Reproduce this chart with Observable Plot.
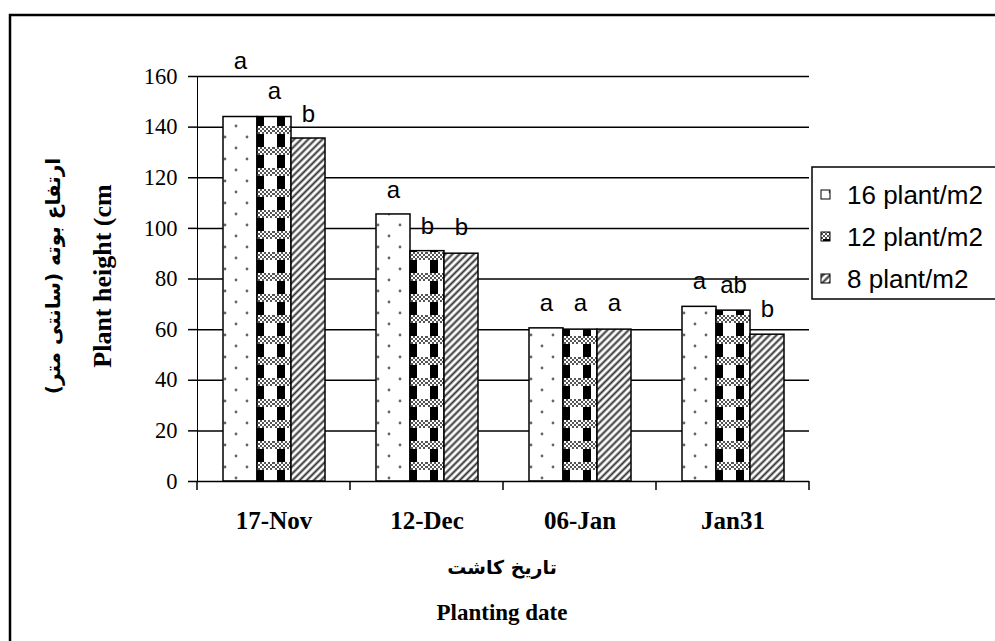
<!DOCTYPE html>
<html>
<head>
<meta charset="utf-8">
<script src="https://cdn.jsdelivr.net/npm/d3@7"></script>
<script src="https://cdn.jsdelivr.net/npm/@observablehq/plot@0.6"></script>
<style>
  html, body { margin: 0; padding: 0; background: white; }
  #chart svg [aria-label^="fx-axis"] text { font-family: 'Liberation Serif', 'Times New Roman', serif; font-weight: bold; font-size: 25px; }
  #chart svg [aria-label^="y-axis"] text { font-family: 'Liberation Serif', 'Times New Roman', serif; font-size: 22.5px; }
  #chart svg [aria-label^="y-axis"] { stroke-width: 1.5; }
</style>
</head>
<body>
<div id="chart"></div>
<script>
// ---- data ----
const dates = ["17-Nov", "12-Dec", "06-Jan", "Jan31"];
const densities = ["16 plant/m2", "12 plant/m2", "8 plant/m2"];
const height16 = [144, 105.5, 60.5, 69];
const height12 = [144, 91, 60, 67.5];
const height8 = [135.5, 90, 60, 58];
const letters16 = ["a", "a", "a", "a"];
const letters12 = ["a", "b", "a", "ab"];
const letters8 = ["b", "b", "a", "b"];
const letterAt16 = [166, 115, 70.5, 79];
const letterAt12 = [154, 101, 70.5, 77.5];
const letterAt8 = [145, 100.5, 70.5, 68];
const yTicks = [0, 20, 40, 60, 80, 100, 120, 140, 160];

const series = [
  {name: densities[0], values: height16, letters: letters16, at: letterAt16},
  {name: densities[1], values: height12, letters: letters12, at: letterAt12},
  {name: densities[2], values: height8, letters: letters8, at: letterAt8}
];
const table = dates.flatMap((date, i) =>
  series.map(s => ({date, density: s.name, value: s.values[i], letter: s.letters[i], letterAt: s.at[i]})));

const sans = "'Liberation Sans', Arial, sans-serif";
const serif = "'Liberation Serif', 'Times New Roman', serif";
const patternIds = ["url(#p16)", "url(#p12)", "url(#p8)"];

const chart = Plot.plot({
  width: 995,
  height: 641,
  marginLeft: 197,
  marginRight: 186,
  marginTop: 76,
  marginBottom: 160,
  style: {fontFamily: serif, fontSize: "22px", color: "black", background: "white", overflow: "visible"},
  facet: {data: table, x: "date"},
  fx: {domain: dates, padding: 0, label: null, tickSize: 0, tickPadding: 30, axis: "bottom"},
  x: {domain: densities, paddingInner: 0, paddingOuter: 0.686, axis: null},
  y: {domain: [0, 160], ticks: yTicks, tickSize: 9, tickPadding: 11, label: null, line: true},
  color: {domain: densities, range: patternIds},
  marks: [
    Plot.ruleY(yTicks.slice(1), {stroke: "black", strokeWidth: 1.5}),
    Plot.barY(table, {x: "density", y: "value", fill: "density", stroke: "black", strokeWidth: 1.5}),
    Plot.text(table, {x: "density", y: "letterAt", text: "letter", fontFamily: sans, fontSize: 24, fill: "black"}),
    Plot.ruleY([0], {stroke: "black", strokeWidth: 1.5})
  ]
});

const svg = d3.select(chart);

// ---- patterns ----
const defs = svg.insert("defs", ":first-child");
const fine = defs.append("pattern").attr("id", "fine").attr("patternUnits", "userSpaceOnUse")
  .attr("width", 4).attr("height", 4);
fine.append("rect").attr("width", 4).attr("height", 4).attr("fill", "#fff");
fine.append("rect").attr("width", 2).attr("height", 2).attr("fill", "#555");
fine.append("rect").attr("x", 2).attr("y", 2).attr("width", 2).attr("height", 2).attr("fill", "#555");

const p16 = defs.append("pattern").attr("id", "p16").attr("patternUnits", "userSpaceOnUse")
  .attr("width", 22).attr("height", 22);
p16.append("rect").attr("width", 22).attr("height", 22).attr("fill", "#fff");
p16.append("circle").attr("cx", 5).attr("cy", 5).attr("r", 1.4).attr("fill", "#666");
p16.append("circle").attr("cx", 16).attr("cy", 16).attr("r", 1.4).attr("fill", "#666");

const p12 = defs.append("pattern").attr("id", "p12").attr("patternUnits", "userSpaceOnUse")
  .attr("width", 21).attr("height", 21);
p12.append("rect").attr("width", 21).attr("height", 21).attr("fill", "#fff");
p12.append("rect").attr("x", 4).attr("width", 8).attr("height", 21).attr("fill", "#000");
p12.append("rect").attr("y", 0).attr("width", 21).attr("height", 8).attr("fill", "url(#fine)");

const p8 = defs.append("pattern").attr("id", "p8").attr("patternUnits", "userSpaceOnUse")
  .attr("width", 5).attr("height", 5).attr("patternTransform", "rotate(45)");
p8.append("rect").attr("width", 5).attr("height", 5).attr("fill", "#fff");
p8.append("line").attr("x1", 1.5).attr("y1", 0).attr("x2", 1.5).attr("y2", 5)
  .attr("stroke", "#333").attr("stroke-width", 2);

// ---- category boundary ticks from the library scales ----
const fxs = chart.scale("fx");
const ys = chart.scale("y");
const fxBand = d3.scaleBand().domain(fxs.domain).range(fxs.range).padding(0);
const yLin = d3.scaleLinear().domain(ys.domain).range(ys.range);
const bounds = fxs.domain.map(d => fxBand(d)).concat([fxBand(fxs.domain[fxs.domain.length - 1]) + fxBand.bandwidth()]);
svg.append("g").selectAll("line").data(bounds).join("line")
  .attr("x1", d => d).attr("x2", d => d)
  .attr("y1", yLin(0)).attr("y2", yLin(0) + 9)
  .attr("stroke", "black").attr("stroke-width", 1.5);

// ---- axis titles ----
const yMid = 276;
svg.append("text").attr("transform", `translate(102,${yMid}) rotate(-90)`)
  .attr("text-anchor", "middle").attr("dominant-baseline", "central")
  .attr("font-family", serif).attr("font-weight", "bold").attr("font-size", 26)
  .text("Plant height (cm");
svg.append("text").attr("transform", `translate(53,${yMid}) rotate(-90)`)
  .attr("text-anchor", "middle").attr("dominant-baseline", "central")
  .attr("font-family", "'DejaVu Sans', sans-serif").attr("font-weight", "bold").attr("font-size", 20)
  .attr("direction", "rtl")
  .text("ارتفاع بوته (سانتی متر)");
const xMid = 502;
svg.append("text").attr("x", xMid).attr("y", 567)
  .attr("text-anchor", "middle").attr("dominant-baseline", "central")
  .attr("font-family", "'DejaVu Sans', sans-serif").attr("font-weight", "bold").attr("font-size", 19)
  .attr("direction", "rtl")
  .text("تاريخ کاشت");
svg.append("text").attr("x", xMid).attr("y", 612)
  .attr("text-anchor", "middle").attr("dominant-baseline", "central")
  .attr("font-family", serif).attr("font-weight", "bold").attr("font-size", 23)
  .text("Planting date");

// ---- legend ----
const leg = svg.append("g");
leg.append("rect").attr("x", 812).attr("y", 167).attr("width", 200).attr("height", 132)
  .attr("fill", "white").attr("stroke", "black").attr("stroke-width", 1.5);
const rowY = [195, 237, 279];
densities.forEach((d, i) => {
  leg.append("rect").attr("x", 821).attr("y", rowY[i] - 5).attr("width", 9).attr("height", 9)
    .attr("fill", patternIds[i]).attr("stroke", "black").attr("stroke-width", 1);
  leg.append("text").attr("x", 847).attr("y", rowY[i]).attr("dominant-baseline", "central")
    .attr("text-anchor", "start")
    .attr("font-family", sans).attr("font-size", 26).text(d);
});

// ---- outer frame ----
svg.append("rect").attr("x", 10).attr("y", 15).attr("width", 1000).attr("height", 700)
  .attr("fill", "none").attr("stroke", "black").attr("stroke-width", 2.5);

document.getElementById("chart").appendChild(chart);
</script>
</body>
</html>
